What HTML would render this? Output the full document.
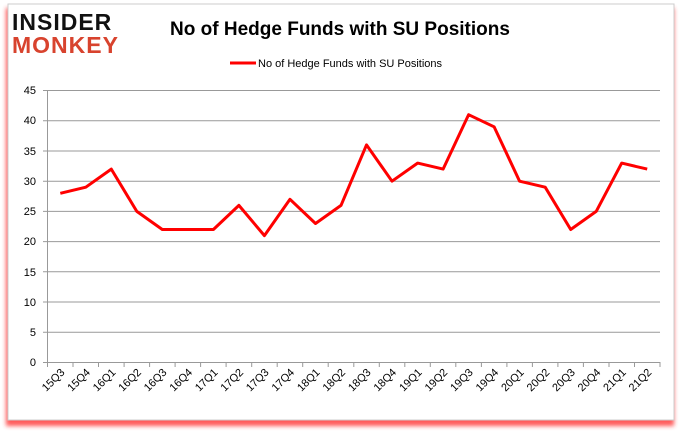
<!DOCTYPE html><html><head><style>body{margin:0;background:#fff;}</style></head><body>
<svg width="680" height="433" xmlns="http://www.w3.org/2000/svg" font-family="Liberation Sans, sans-serif">
<defs><filter id="s" x="-5%" y="-5%" width="110%" height="115%"><feGaussianBlur stdDeviation="2"/></filter></defs>
<rect x="6" y="8" width="668" height="418" fill="#f33" filter="url(#s)" opacity="0.8"/>
<rect x="8" y="4" width="666" height="416" fill="#fff" stroke="#ccc"/>
<text x="12" y="30" font-size="23" font-weight="bold" fill="#111" letter-spacing="1">INSIDER</text>
<text x="12" y="53" font-size="23" font-weight="bold" fill="#d8432e" letter-spacing="1">MONKEY</text>
<text x="340" y="35" font-size="19" font-weight="bold" text-anchor="middle" fill="#000">No of Hedge Funds with SU Positions</text>
<line x1="230" y1="63" x2="256" y2="63" stroke="#f00" stroke-width="3"/>
<text x="258" y="67" font-size="11" fill="#000">No of Hedge Funds with SU Positions</text>
<g stroke="#999" stroke-width="1">
<line x1="43" y1="90.5" x2="660" y2="90.5"/><line x1="43" y1="120.7" x2="660" y2="120.7"/><line x1="43" y1="151" x2="660" y2="151"/><line x1="43" y1="181.2" x2="660" y2="181.2"/><line x1="43" y1="211.4" x2="660" y2="211.4"/><line x1="43" y1="241.6" x2="660" y2="241.6"/><line x1="43" y1="271.8" x2="660" y2="271.8"/><line x1="43" y1="302" x2="660" y2="302"/><line x1="43" y1="332.3" x2="660" y2="332.3"/><line x1="43" y1="362.5" x2="660" y2="362.5"/>
<line x1="47.5" y1="90" x2="47.5" y2="367"/>
<path d="M73 362v5M98.5 362v5M124.1 362v5M149.6 362v5M175.1 362v5M200.6 362v5M226.1 362v5M251.7 362v5M277.2 362v5M302.7 362v5M328.2 362v5M353.8 362v5M379.3 362v5M404.8 362v5M430.3 362v5M455.8 362v5M481.4 362v5M506.9 362v5M532.4 362v5M557.9 362v5M583.4 362v5M609 362v5M634.5 362v5M660 362v5"/>
</g>
<g font-size="11" fill="#000" text-anchor="end">
<text x="36" y="94">45</text><text x="36" y="124">40</text><text x="36" y="155">35</text><text x="36" y="185">30</text><text x="36" y="215">25</text><text x="36" y="245">20</text><text x="36" y="276">15</text><text x="36" y="306">10</text><text x="36" y="336">5</text><text x="36" y="366">0</text>
</g>
<g font-size="11" fill="#000" text-anchor="end">
<text transform="translate(65.3,373) rotate(-45)">15Q3</text>
<text transform="translate(90.8,373) rotate(-45)">15Q4</text>
<text transform="translate(116.3,373) rotate(-45)">16Q1</text>
<text transform="translate(141.8,373) rotate(-45)">16Q2</text>
<text transform="translate(167.3,373) rotate(-45)">16Q3</text>
<text transform="translate(192.9,373) rotate(-45)">16Q4</text>
<text transform="translate(218.4,373) rotate(-45)">17Q1</text>
<text transform="translate(243.9,373) rotate(-45)">17Q2</text>
<text transform="translate(269.4,373) rotate(-45)">17Q3</text>
<text transform="translate(295,373) rotate(-45)">17Q4</text>
<text transform="translate(320.5,373) rotate(-45)">18Q1</text>
<text transform="translate(346,373) rotate(-45)">18Q2</text>
<text transform="translate(371.5,373) rotate(-45)">18Q3</text>
<text transform="translate(397,373) rotate(-45)">18Q4</text>
<text transform="translate(422.6,373) rotate(-45)">19Q1</text>
<text transform="translate(448.1,373) rotate(-45)">19Q2</text>
<text transform="translate(473.6,373) rotate(-45)">19Q3</text>
<text transform="translate(499.1,373) rotate(-45)">19Q4</text>
<text transform="translate(524.6,373) rotate(-45)">20Q1</text>
<text transform="translate(550.2,373) rotate(-45)">20Q2</text>
<text transform="translate(575.7,373) rotate(-45)">20Q3</text>
<text transform="translate(601.2,373) rotate(-45)">20Q4</text>
<text transform="translate(626.7,373) rotate(-45)">21Q1</text>
<text transform="translate(652.2,373) rotate(-45)">21Q2</text>
</g>
<polyline fill="none" stroke="#f00" stroke-width="3" stroke-linejoin="round" points="60.3,193.3 85.8,187.2 111.3,169.1 136.8,211.4 162.3,229.5 187.9,229.5 213.4,229.5 238.9,205.4 264.4,235.6 290,199.3 315.5,223.5 341,205.4 366.5,144.9 392,181.2 417.6,163.1 443.1,169.1 468.6,114.7 494.1,126.8 519.6,181.2 545.2,187.2 570.7,229.5 596.2,211.4 621.7,163.1 647.2,169.1"/>
</svg></body></html>
